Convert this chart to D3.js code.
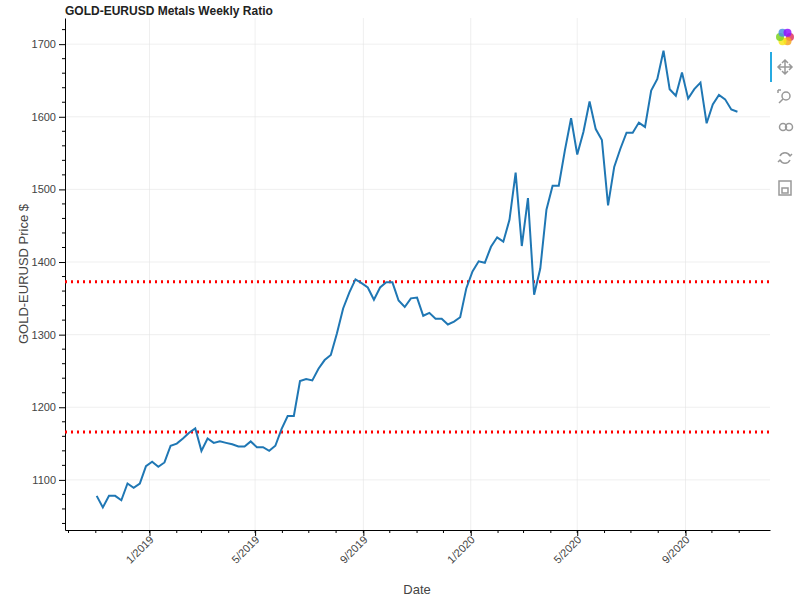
<!DOCTYPE html>
<html>
<head>
<meta charset="utf-8">
<script src="https://cdn.jsdelivr.net/npm/d3@7"></script>
<style>
body { margin: 0; background: #fff; font-family: Helvetica, Arial, "Liberation Sans", sans-serif; }
</style>
</head>
<body>
<div id="container"></div>
<script>
/* DATA */
const startDate = "2018-11-02";   // first weekly close
const ratio = [1078,1062,1078,1078,1072,1095,1089,1095,1119,1125,
  1118,1124,1147,1150,1157,1165,1171,1140,1157,1151,
  1153,1151,1149,1146,1146,1153,1145,1145,1140,1147,
  1170,1188,1188,1236,1239,1237,1253,1265,1272,1302,
  1336,1358,1376,1371,1365,1348,1365,1372,1372,1347,
  1338,1350,1351,1326,1330,1322,1322,1314,1318,1324,
  1364,1387,1401,1399,1421,1434,1428,1458,1523,1422,
  1488,1355,1391,1472,1505,1505,1554,1598,1548,1579,
  1621,1583,1568,1478,1531,1556,1578,1578,1592,1586,
  1636,1652,1691,1638,1629,1661,1625,1638,1647,1591,
  1617,1630,1624,1610,1607];
const levels = [1373, 1166];
const yTicks = [1100,1200,1300,1400,1500,1600,1700];
const xTicks = ["2019-01-01","2019-05-01","2019-09-01","2020-01-01","2020-05-01","2020-09-01"];

/* CONSTANTS */
const width = 800, height = 600;
const margin = ({top: 18, right: 30, bottom: 70, left: 65});

const parse = d3.timeParse("%Y-%m-%d");
const t0 = parse(startDate);
const data = ratio.map((v, i) => ({date: d3.timeWeek.offset(t0, i), value: v}));

const xScale = d3.scaleTime()
  .domain([parse("2018-09-27"), parse("2020-12-06")])
  .range([margin.left, width - margin.right]);
const yScale = d3.scaleLinear()
  .domain([1031, 1736])
  .range([height - margin.bottom, margin.top]);

const svg = d3.select("#container").append("svg")
  .attr("width", width).attr("height", height);

// grid
svg.append("g").selectAll("line").data(yTicks).join("line")
  .attr("x1", margin.left).attr("x2", width - margin.right)
  .attr("y1", d => yScale(d)).attr("y2", d => yScale(d))
  .attr("stroke", "#e5e5e5").attr("stroke-opacity", 0.6);
svg.append("g").selectAll("line").data(xTicks).join("line")
  .attr("y1", margin.top).attr("y2", height - margin.bottom)
  .attr("x1", d => xScale(parse(d))).attr("x2", d => xScale(parse(d)))
  .attr("stroke", "#e5e5e5").attr("stroke-opacity", 0.6);

// axes
const xAxis = d3.axisBottom(xScale).tickValues(xTicks.map(parse))
  .tickFormat(d3.timeFormat("%-m/%Y")).tickSizeInner(6).tickSizeOuter(0);
const gx = svg.append("g")
  .attr("transform", `translate(0, ${height - margin.bottom})`)
  .call(xAxis);
gx.selectAll(".tick text")
  .attr("font-size", "11px").attr("fill", "#444")
  .attr("text-anchor", "end")
  .attr("transform", "translate(-4,2) rotate(-45)")
  .attr("dy", "0.35em").attr("y", 8).attr("x", 0);

const yAxis = d3.axisLeft(yScale).tickValues(yTicks).tickFormat(d3.format("d"))
  .tickSizeInner(6).tickSizeOuter(0);
const gy = svg.append("g")
  .attr("transform", `translate(${margin.left}, 0)`)
  .call(yAxis);
gy.selectAll(".tick text").attr("font-size", "11px").attr("fill", "#444");
[gx, gy].forEach(g => {
  g.select(".domain").attr("stroke", "#000");
  g.selectAll(".tick line").attr("stroke", "#000");
});
// minor y ticks
const minor = d3.range(1040, 1736, 20).filter(v => v % 100 !== 0);
svg.append("g").selectAll("line").data(minor).join("line")
  .attr("x1", margin.left - 3).attr("x2", margin.left)
  .attr("y1", d => yScale(d)).attr("y2", d => yScale(d)).attr("stroke", "#000");
// minor x ticks (monthly)
const months = d3.timeMonth.range(parse("2018-10-01"), parse("2020-12-01"));
svg.append("g").selectAll("line").data(months).join("line")
  .attr("y1", height - margin.bottom).attr("y2", height - margin.bottom + 3)
  .attr("x1", d => xScale(d)).attr("x2", d => xScale(d)).attr("stroke", "#000");

// level lines
svg.append("g").selectAll("line").data(levels).join("line")
  .attr("x1", margin.left).attr("x2", width - margin.right)
  .attr("y1", d => yScale(d)).attr("y2", d => yScale(d))
  .attr("stroke", "red").attr("stroke-width", 3)
  .attr("stroke-dasharray", "2,4");

// line
svg.append("path").datum(data)
  .attr("fill", "none").attr("stroke", "#1f77b4").attr("stroke-width", 2)
  .attr("d", d3.line().x(d => xScale(d.date)).y(d => yScale(d.value)));

// labels
svg.append("text").attr("x", 65).attr("y", 15)
  .attr("font-size", "12px").attr("font-weight", "600").attr("fill", "#222")
  .text("GOLD-EURUSD Metals Weekly Ratio");
svg.append("text").attr("transform", "rotate(-90)")
  .attr("x", -(margin.top + (height - margin.bottom - margin.top) / 2)).attr("y", 28)
  .attr("text-anchor", "middle").attr("font-size", "13px").attr("fill", "#444")
  .text("GOLD-EURUSD Price $");
svg.append("text").attr("x", 417).attr("y", 594)
  .attr("text-anchor", "middle").attr("font-size", "13px").attr("fill", "#444")
  .text("Date");

// toolbar
const tb = svg.append("g");
const logoColors = ["#e0385f","#f6a623","#f8e71c","#7ed321","#4a90e2","#9013fe"];
logoColors.forEach((c, i) => {
  const a = i * Math.PI / 3;
  tb.append("circle").attr("cx", 785 + 5 * Math.cos(a)).attr("cy", 37 + 5 * Math.sin(a))
    .attr("r", 4).attr("fill", c).attr("opacity", 0.85);
});
tb.append("rect").attr("x", 770).attr("y", 52).attr("width", 2).attr("height", 30).attr("fill", "#26aae1");
const icon = (y) => tb.append("g").attr("transform", `translate(785, ${y})`)
  .attr("stroke", "#999").attr("fill", "none").attr("stroke-width", 1.5);
const g1 = icon(67); g1.append("path").attr("d", "M-7,0H7M0,-7V7M-4,-3L-7,0L-4,3M4,-3L7,0L4,3M-3,-4L0,-7L3,-4M-3,4L0,7L3,4");
const g2 = icon(97); g2.append("circle").attr("cx", 1).attr("cy", -1).attr("r", 4); g2.append("path").attr("d", "M-2,2L-6,6M-7,-7h3M-7,-7v3");
const g3 = icon(127); g3.append("circle").attr("cx", -2).attr("cy", 0).attr("r", 3.5); g3.append("circle").attr("cx", 4).attr("cy", 0).attr("r", 3.5);
const g4 = icon(158); g4.append("path").attr("d", "M-5,-2A5.5,5.5 0 0 1 5,-2M5,2A5.5,5.5 0 0 1 -5,2M3,-4L5,-2L7,-4M-3,4L-5,2L-7,4");
const g5 = icon(188); g5.append("rect").attr("x", -6).attr("y", -7).attr("width", 12).attr("height", 14); g5.append("rect").attr("x", -3).attr("y", 0).attr("width", 6).attr("height", 5);
</script>
</body>
</html>
